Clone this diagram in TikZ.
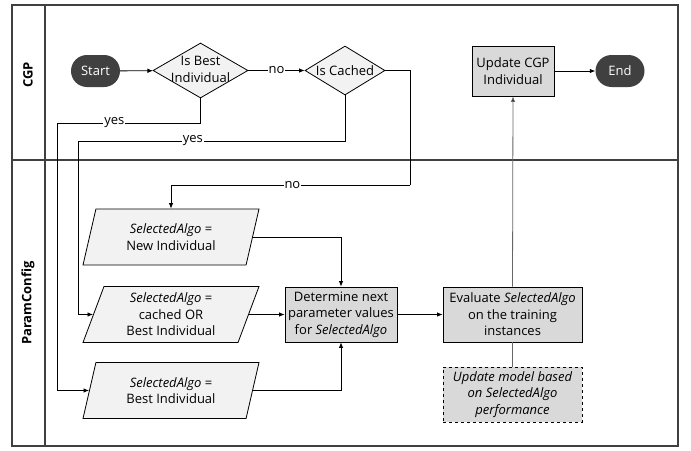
\documentclass[tikz,border=0pt]{standalone}
\usepackage{fontspec}
\setmainfont{Open Sans}
\usetikzlibrary{shapes.geometric,arrows.meta}
\definecolor{dark}{HTML}{404040}
\definecolor{light}{HTML}{F2F2F2}
\definecolor{mid}{HTML}{D9D9D9}
\definecolor{lgray}{HTML}{666666}
\begin{document}
\begin{tikzpicture}[x=1pt,y=-1pt,
 font=\fontsize{13}{16.5}\selectfont,
 term/.style={fill=dark,text=white,rounded corners=16pt,minimum width=49pt,minimum height=32pt,inner sep=0},
 dia/.style={diamond,draw=black,fill=light,inner sep=0,line width=0.8pt},
 para/.style={trapezium,trapezium left angle=64,trapezium right angle=116,trapezium stretches body,draw=black,fill=light,minimum width=176pt,minimum height=56pt,inner sep=0,align=center,line width=0.8pt},
 proc/.style={rectangle,draw=black,fill=mid,align=center,inner sep=0,line width=0.8pt,minimum height=55pt},
 conn/.style={line width=0.8pt,-{Latex[length=5.5pt,width=4.5pt,fill=black]}},
 lbl/.style={fill=white,inner sep=1pt},
 frame/.style={draw=dark,line width=1.4pt},
 lane/.style={rotate=90,font=\fontsize{13}{16.5}\selectfont\bfseries}]
\useasboundingbox[fill=white] (0,0) rectangle (691,450);
% frame
\draw[frame] (12,5) rectangle (678,446);
\draw[frame] (12,160) -- (678,160);
\draw[frame] (45,5) -- (45,446);
\node[lane] (lcgp) at (28,75) {CGP};
\node[lane] (lpc) at (28,303) {ParamConfig};
% nodes
\node[term] (start) at (95.5,71) {Start};
\node[dia,minimum width=95pt,minimum height=55pt] (d1) at (200.5,70.5) {\makebox[0pt]{\begin{tabular}{@{}c@{}}Is Best\\Individual\end{tabular}}};
\node[dia,minimum width=80pt,minimum height=49pt] (d2) at (345,70.5) {\makebox[0pt]{Is Cached}};
\node[proc,minimum width=82pt,minimum height=50pt] (upd) at (513,71) {Update CGP\\Individual};
\node[term] (end) at (620,71) {End};
\node[para] (p1) at (171,237) {\textit{SelectedAlgo} =\\New Individual};
\node[para] (p2) at (171,314.5) {\textit{SelectedAlgo} =\\cached OR\\Best Individual};
\node[para] (p3) at (171,390.5) {\textit{SelectedAlgo} =\\Best Individual};
\node[proc,minimum width=112pt] (det) at (341,314.5) {Determine next\\parameter values\\for \textit{SelectedAlgo}};
\node[proc,minimum width=139pt] (eval) at (512.5,314.5) {Evaluate \textit{SelectedAlgo}\\on the training\\instances};
\node[proc,minimum width=139pt,dashed,font=\fontsize{13}{16.5}\selectfont\itshape] (model) at (512.5,394.5) {Update model based\\on SelectedAlgo\\performance};
% coordinates
\coordinate (c1) at (57,123);
\coordinate (c2) at (78,141);
\coordinate (c3) at (410,185);
% connectors
\draw[conn] (start) -- (d1);
\draw[conn] (d1) -- node[lbl] (lno1) {no} (d2);
\draw[conn] (d1.south) |- (c1) node[lbl,pos=0.8] (lyes1) {yes} |- (p3.west);
\draw[conn] (d2.south) |- (c2) node[lbl,pos=0.785] (lyes2) {yes} |- (p2.west);
\draw[line width=0.8pt] (d2.east) -| (c3);
\draw[conn] (c3) -| (p1.north) node[lbl,pos=0.246] (lno2) {no};
\draw[conn] (p1.east) -| (det.north);
\draw[conn] (p2.east) -- (det.west);
\draw[conn] (p3.east) -| (det.south);
\draw[conn] (det) -- (eval);
\draw[conn,draw=lgray] (eval.north) -- (upd.south);
\draw[conn] (upd) -- (end);
\draw[line width=0.8pt,lgray] (eval.south) -- (model.north);
\end{tikzpicture}
\end{document}
